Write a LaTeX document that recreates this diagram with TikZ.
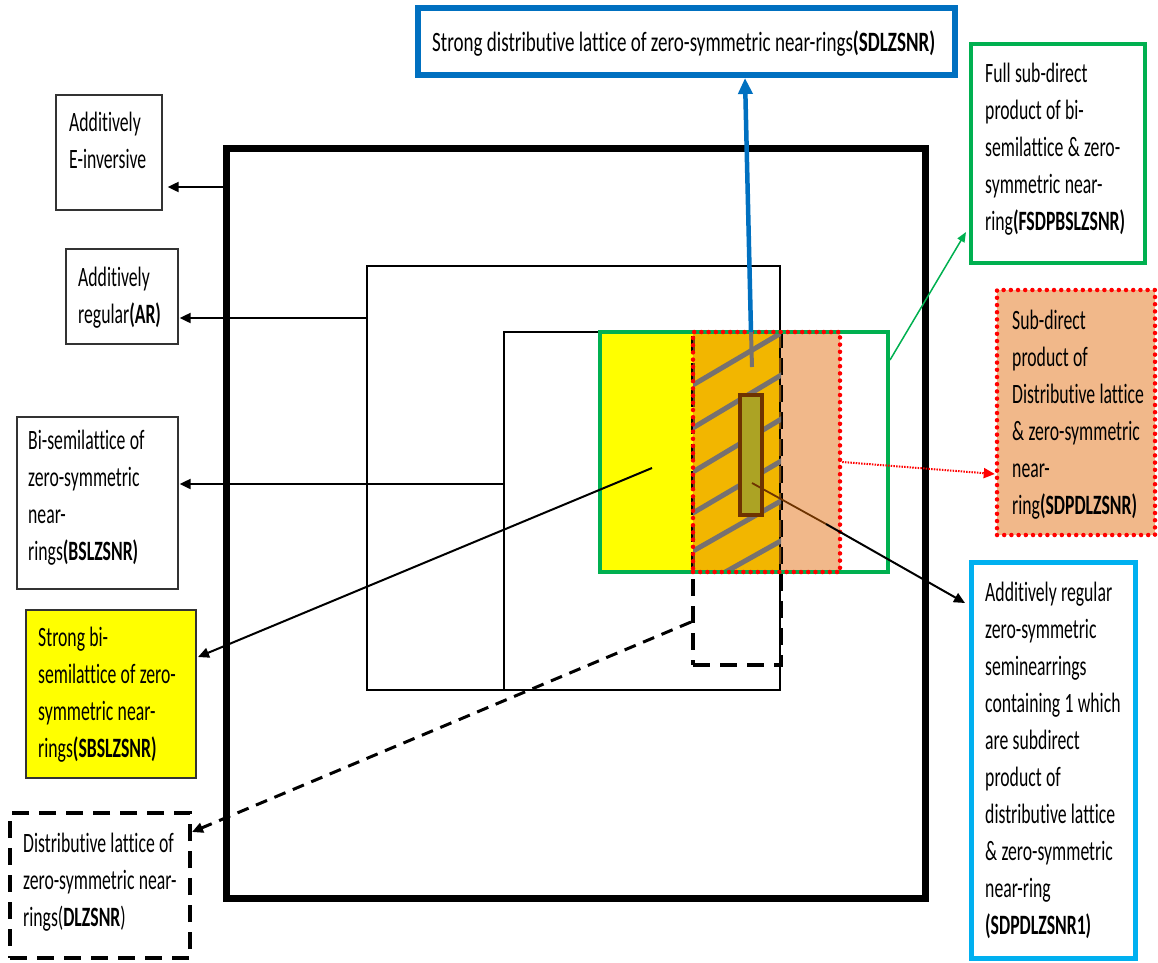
\documentclass[tikz,border=0pt]{standalone}
\usepackage{fontspec}
\setmainfont{Carlito}[FakeStretch=0.632, Ligatures={NoCommon}, Contextuals=NoAlternate]
\newfontfamily\topfamily{Carlito}[FakeStretch=0.68, Ligatures={NoCommon}, Contextuals=NoAlternate]
\usetikzlibrary{arrows.meta}
\definecolor{cgreen}{HTML}{00B050}
\definecolor{cblue}{HTML}{0070C0}
\definecolor{ccyan}{HTML}{00B0F0}
\definecolor{corange}{HTML}{F2B600}
\definecolor{cpeach}{HTML}{F1B88A}
\definecolor{cgray}{HTML}{767171}
\definecolor{colive}{HTML}{ACA324}
\definecolor{cbrown}{HTML}{6E3300}
\definecolor{cbrowndash}{HTML}{7A4A12}
\definecolor{cyellow}{HTML}{FFFF00}
\protected\def\lblfont{\fontsize{28pt}{37pt}\selectfont}
\protected\def\lblspace{\spaceskip=4.3pt plus 1pt minus 0.5pt\xspaceskip=4.3pt plus 1pt\relax}
\tikzset{
  box/.style={draw, rectangle, inner sep=0pt, line width=1.3pt, draw=black!80},
  txt/.style={font=\lblfont, inner sep=0pt, anchor=base west, text width=#1, align=left, execute at begin node=\lblspace},
  txt/.default=240pt,
  arr/.style={line width=2pt, -{Triangle[length=11pt,width=10pt]}},
  reddots/.style={draw=red, line width=4.5pt, line cap=round, dash pattern=on 0pt off 7.2pt},
  blkdash/.style={draw=black, line width=4pt, dash pattern=on 17pt off 10pt},
}
\begin{document}
\begin{tikzpicture}[x=1pt,y=-1pt]
\useasboundingbox (0,0) rectangle (1158,962);

% outer and inner regions
\node[draw, line width=7pt, minimum width=699pt, minimum height=750pt, inner sep=0pt] (outer) at (575.5,523) {};
\node[draw, line width=1.3pt, minimum width=413pt, minimum height=424pt, inner sep=0pt] (inner1) at (573.5,478) {};
\node[draw, line width=1.3pt, minimum width=276pt, minimum height=358pt, inner sep=0pt] (inner2) at (642,511) {};

% green region fills
\node[fill=white, minimum width=288pt, minimum height=240pt, inner sep=0pt] (greg) at (744,452) {};
\fill[cyellow] (600,332) rectangle (693,572);
\fill[corange] (693,332) rectangle (781,572);
\fill[cpeach] (781,332) rectangle (840,572);
\draw[line width=1.3pt] (780,332) -- (780,572);

% black dashed region
\node[blkdash, minimum width=88pt, minimum height=333pt, inner sep=0pt] (dreg) at (737,498.5) {};
\begin{scope}
  \clip (693,332) rectangle (781,572);
  \node[blkdash, draw=cbrowndash, minimum width=88pt, minimum height=333pt, inner sep=0pt] at (737,498.5) {};
  \foreach \l/\r in {385/333, 428/375, 472/419, 513/461, 551/501, 590/541}
    \draw[cgray, line width=5pt] (685,\l+4.6) -- (790,\r-5.2);
\end{scope}

% olive rectangle
\node[draw=cbrown, fill=colive, line width=4.5pt, minimum width=22pt, minimum height=120pt, inner sep=0pt] (olive) at (751,455) {};

% green border and red dotted region
\node[draw=cgreen, line width=4pt, minimum width=288pt, minimum height=240pt, inner sep=0pt] (gborder) at (744,452) {};
\node[reddots, minimum width=147pt, minimum height=240pt, inner sep=0pt] (rreg) at (766.5,452) {};

% label boxes
\node[box, draw=cblue, line width=6pt, minimum width=537pt, minimum height=67pt] (top) at (686.5,41.5) {};
\node[box, minimum width=106pt, minimum height=115pt] (ei) at (109,152.5) {};
\node[box, minimum width=112pt, minimum height=95pt] (ar) at (122,296.5) {};
\node[box, minimum width=161pt, minimum height=172pt] (bsl) at (97.5,503) {};
\node[box, fill=cyellow, minimum width=170pt, minimum height=168pt] (sbsl) at (111,694) {};
\node[box, blkdash, minimum width=180pt, minimum height=145pt] (dl) at (100,885.5) {};
\node[box, draw=cgreen, line width=4pt, minimum width=174pt, minimum height=219pt] (fsdp) at (1058,153.5) {};
\node[box, fill=cpeach, reddots, minimum width=158pt, minimum height=245pt] (sdpd) at (1076,412.5) {};
\node[box, draw=ccyan, line width=5pt, minimum width=164pt, minimum height=396pt] (sdpd1) at (1053,760) {};

% texts
\node[txt=600pt, font=\topfamily\lblfont] (ttop) at (432,51) {Strong distributive lattice of zero-symmetric near-rings\textbf{(SDLZSNR)}};
\node[txt] (tei) at (69,131) {Additively\\E-inversive};
\node[txt] (tar) at (78,286) {Additively\\regular\textbf{(AR)}};
\node[txt] (tbsl) at (28,449) {Bi-semilattice of\\zero-symmetric\\near-\\rings\textbf{(BSLZSNR)}};
\node[txt] (tsbsl) at (38,646) {Strong bi-\\semilattice of zero-\\symmetric near-\\rings\textbf{(SBSLZSNR)}};
\node[txt] (tdl) at (23,852) {Distributive lattice of\\zero-symmetric near-\\rings(\textbf{DLZSNR})};
\node[txt] (tfsdp) at (985,82) {Full sub-direct\\product of bi-\\semilattice \& zero-\\symmetric near-\\ring\textbf{(FSDPBSLZSNR)}};
\node[txt] (tsdpd) at (1012,329) {Sub-direct\\product of\\Distributive lattice\\\& zero-symmetric\\near-\\ring\textbf{(SDPDLZSNR)}};
\node[txt] (tsdpd1) at (985,601) {Additively regular\\zero-symmetric\\seminearrings\\containing 1 which\\are subdirect\\product of\\distributive lattice\\\& zero-symmetric\\near-ring\\\textbf{(SDPDLZSNR1)}};

% connectors
\coordinate (c1) at (outer.west |- 0,187);
\draw[arr] (c1) -- ([xshift=5pt]ei.east |- c1);
\coordinate (c2) at (inner1.west |- 0,318);
\draw[arr] (c2) -- ([xshift=1pt]ar.east |- c2);
\coordinate (c3) at (inner2.west |- 0,484);
\draw[arr] (c3) -- ([xshift=1pt]bsl.east |- c3);
\coordinate (c4) at (652,468);
\draw[arr] (c4) -- (198,657);
\coordinate (c5) at (dreg.west |- 0,622);
\draw[line width=3pt, dash pattern=on 12pt off 8pt, -{Triangle[length=11pt,width=10pt]}] (c5) -- (192,832);
\coordinate (c6) at (752,367);
\coordinate (c6b) at (751,332);
\draw[cgray, line width=4pt] (c6) -- (c6b);
\draw[cblue, line width=4.5pt, -{Triangle[length=16pt,width=14pt]}] (c6b) -- (top.south -| 745,0);
\coordinate (c7) at (gborder.east |- 0,360);
\draw[cgreen, line width=1.5pt, -{Triangle[length=10pt,width=8pt]}] (c7) -- (966,232);
\coordinate (c8) at (rreg.east |- 0,462);
\draw[red, line width=2pt, dash pattern=on 1.5pt off 1.2pt, -{Triangle[length=11pt,width=10pt]}] (c8) -- (sdpd.west |- 0,474);
\coordinate (c9) at (752,483);
\coordinate (c9b) at (826,524);
\draw[cbrown, line width=1.8pt] (c9) -- (c9b);
\draw[arr] (c9b) -- (965,603);
\end{tikzpicture}
\end{document}
